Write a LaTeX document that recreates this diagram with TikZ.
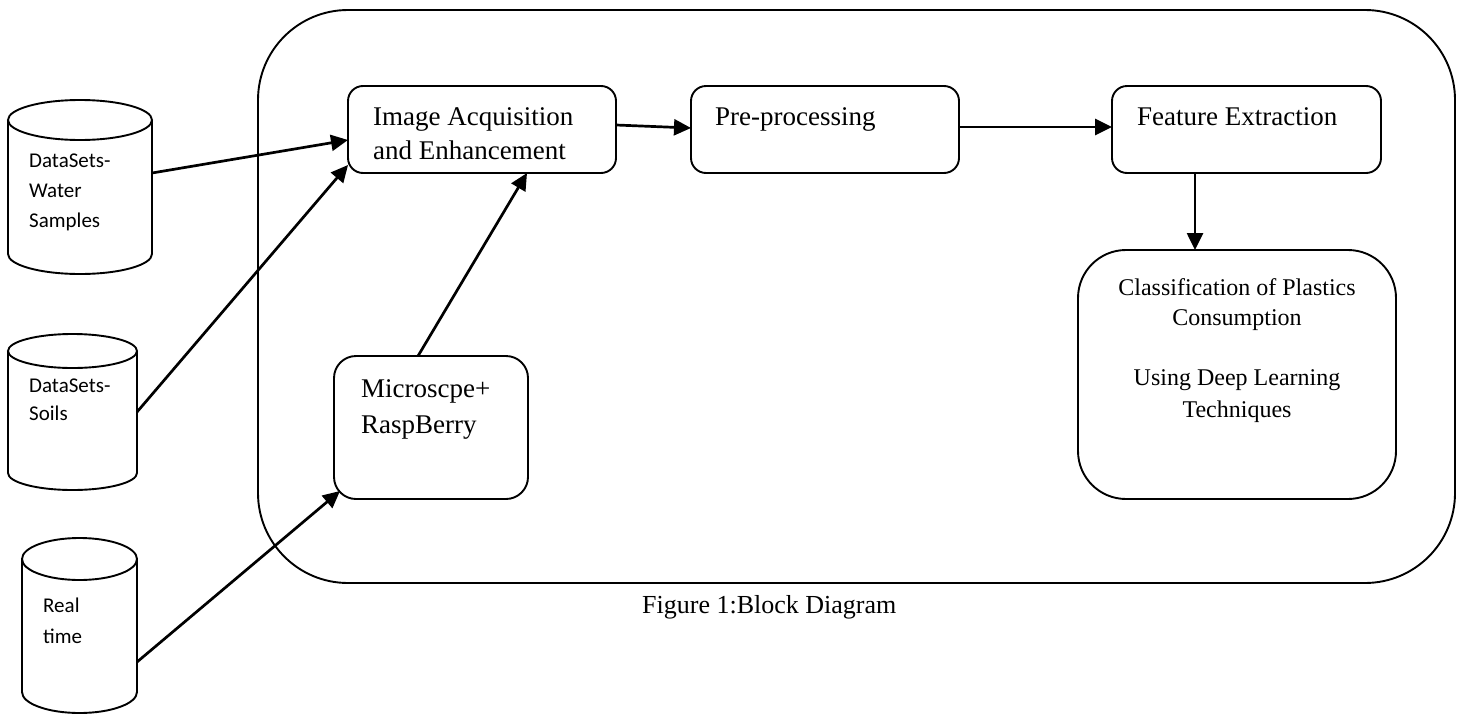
\documentclass[tikz,border=0pt]{standalone}
\usepackage{fontspec}
\setmainfont{Liberation Serif}
\newfontfamily\carl{Carlito}
\usetikzlibrary{arrows.meta}
\newcommand\drawcyl[6]{% left, right, top-centre y, bottom-centre y, x radius, y radius
  \draw[cylline] (#1,#3) -- (#1,#4) arc[start angle=180,end angle=360,x radius=#5pt,y radius=#6pt] -- (#2,#3);
  \draw[cylline] ({(#1+#2)/2},#3) ellipse[x radius=#5pt,y radius=#6pt];}
\begin{document}
\begin{tikzpicture}[x=1pt,y=-1pt,
  box/.style={draw,line width=1.9pt,rounded corners=15pt,inner sep=0,outer sep=0},
  ghost/.style={inner sep=0,outer sep=0},
  cylline/.style={line width=1.9pt},
  arr/.style={line width=2.7pt,-{Triangle[length=17pt,width=16pt]}},
  lbl/.style={anchor=base west,inner sep=0,font=\fontsize{27}{32}\selectfont},
  clbl/.style={anchor=base,inner sep=0,font=\fontsize{24}{30}\selectfont},
  dlbl/.style={anchor=base west,inner sep=0,font=\carl\fontsize{21}{25}\selectfont}]
\useasboundingbox (0,0) rectangle (1461,715);

% outer frame
\node[box,rounded corners=90pt,minimum width=1197pt,minimum height=573pt] (frame) at (856.5,296.5) {};

% boxes
\node[box,minimum width=268pt,minimum height=87pt] (img) at (482,129.5) {};
\node[box,minimum width=268pt,minimum height=87pt] (pre) at (825,129.5) {};
\node[box,minimum width=269pt,minimum height=87pt] (feat) at (1246.5,129.5) {};
\node[box,rounded corners=48pt,minimum width=318pt,minimum height=249pt] (cls) at (1237,374.5) {};
\node[box,rounded corners=22pt,minimum width=194pt,minimum height=143pt] (mic) at (431,427.5) {};

% cylinders
\drawcyl{8}{152}{120}{254}{72}{20}
\node[ghost,minimum width=144pt,minimum height=134pt] (ds1) at (80,187) {};
\drawcyl{8}{137}{351}{473}{64.5}{17}
\node[ghost,minimum width=129pt,minimum height=122pt] (ds2) at (72.5,412) {};
\drawcyl{22}{137}{559}{692}{57.5}{21}
\node[ghost,minimum width=115pt,minimum height=133pt] (ds3) at (79.5,625.5) {};

% texts
\node[lbl] (t1a) at (373,125) {Image Acquisition};
\node[lbl] (t1b) at (373,159) {and Enhancement};
\node[lbl] (t2) at (715,125) {Pre-processing};
\node[lbl] (t3) at (1137,125) {Feature Extraction};
\node[lbl] (t4a) at (361,397) {Microscpe+};
\node[lbl] (t4b) at (361,433) {RaspBerry};
\node[clbl] (t5a) at (1237,295) {Classification of Plastics};
\node[clbl] (t5b) at (1237,325) {Consumption};
\node[clbl] (t5c) at (1237,385) {Using Deep Learning};
\node[clbl] (t5d) at (1237,417) {Techniques};
\node[dlbl] (d1a) at (29,167) {DataSets-};
\node[dlbl] (d1b) at (29,197) {Water};
\node[dlbl] (d1c) at (29,227) {Samples};
\node[dlbl] (d2a) at (29,392) {DataSets-};
\node[dlbl] (d2b) at (29,420) {Soils};
\node[dlbl] (d3a) at (43,612) {Real};
\node[dlbl] (d3b) at (43,643) {time};
\node[anchor=base west,inner sep=0,font=\fontsize{26}{30}\selectfont] (cap) at (642,613) {Figure 1:Block Diagram};

% connectors
\draw[arr] ([yshift=14pt]ds1.east) -- ([yshift=-10.5pt]img.west);
\draw[arr] (ds2.east) -- ([yshift=8pt]img.south west);
\draw[arr] ([xshift=-13pt]mic.north) -- ([xshift=45pt]img.south);
\draw[arr] ([yshift=-36.5pt]ds3.east) -- ([shift={(6pt,8pt)}]mic.south west);
\draw[arr] ([yshift=4.5pt]img.east) -- ([yshift=1.5pt]pre.west);
\draw[arr] ([yshift=2.5pt]pre.east) -- ([yshift=2.5pt]feat.west);
\draw[arr] ([xshift=-51.5pt]feat.south) -- ([xshift=-42pt]cls.north);
\end{tikzpicture}
\end{document}
